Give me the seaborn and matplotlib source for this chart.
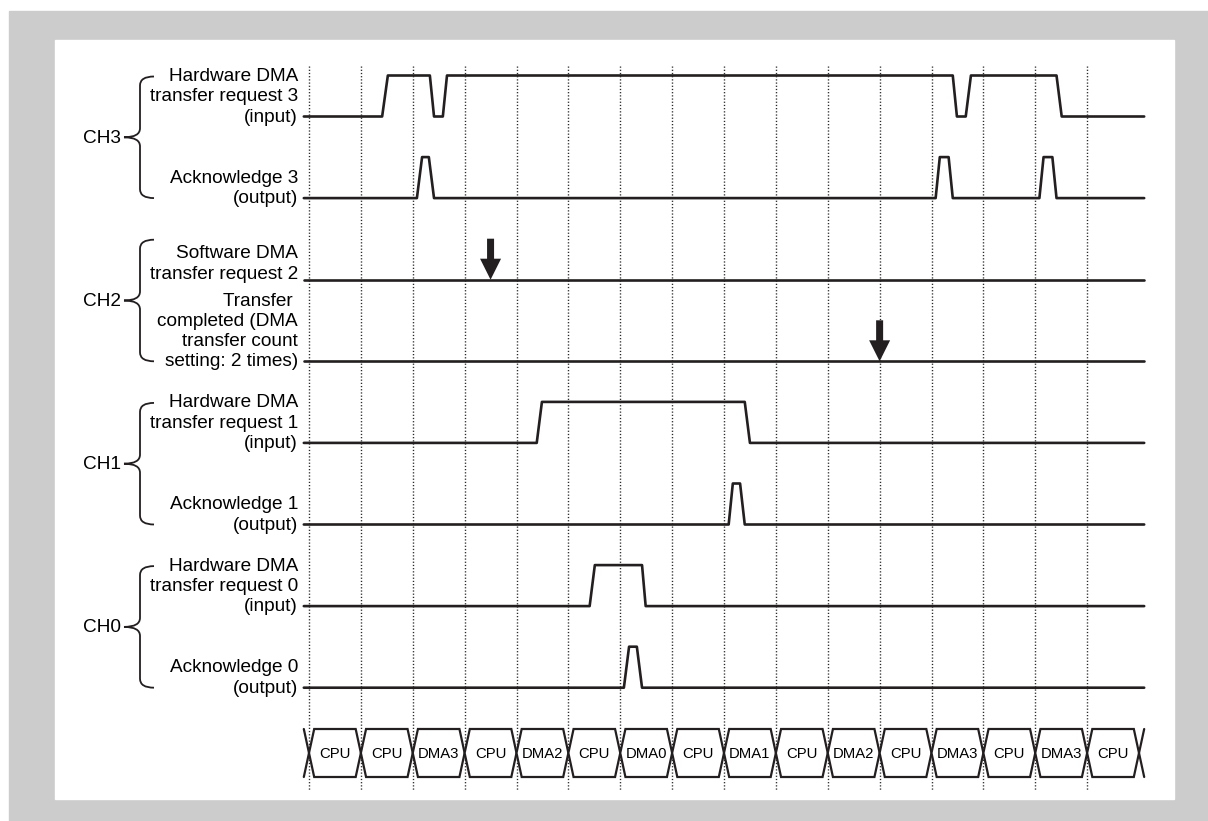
import numpy as np
import pandas as pd
import matplotlib
matplotlib.use("Agg")
import matplotlib.pyplot as plt
import seaborn as sns
from matplotlib.path import Path
from matplotlib.patches import PathPatch, Rectangle, Polygon

# ---------------- data ----------------
bus_cycles = ["CPU", "CPU", "DMA3", "CPU", "DMA2", "CPU", "DMA0", "CPU",
              "DMA1", "CPU", "DMA2", "CPU", "DMA3", "CPU", "DMA3", "CPU"]

# waveform transition times (bus-cycle units) and logic levels
req3_t = [-0.1, 1.41, 1.52, 2.33, 2.41, 2.58, 2.66, 12.41, 12.49, 12.66, 12.76, 14.41, 14.51, 16.1]
req3_v = [0, 0, 1, 1, 0, 0, 1, 1, 0, 0, 1, 1, 0, 0]
ack3_t = [-0.1, 2.08, 2.18, 2.31, 2.41, 12.08, 12.16, 12.33, 12.41, 14.08, 14.16, 14.33, 14.41, 16.1]
ack3_v = [0, 0, 1, 1, 0, 0, 1, 1, 0, 0, 1, 1, 0, 0]
sw2_t = [-0.1, 16.1]
sw2_v = [0, 0]
done2_t = [-0.1, 16.1]
done2_v = [0, 0]
req1_t = [-0.1, 4.39, 4.49, 8.40, 8.50, 16.1]
req1_v = [0, 0, 1, 1, 0, 0]
ack1_t = [-0.1, 8.09, 8.17, 8.31, 8.40, 16.1]
ack1_v = [0, 0, 1, 1, 0, 0]
req0_t = [-0.1, 5.41, 5.51, 6.42, 6.49, 16.1]
req0_v = [0, 0, 1, 1, 0, 0]
ack0_t = [-0.1, 6.07, 6.17, 6.32, 6.42, 16.1]
ack0_v = [0, 0, 1, 1, 0, 0]

sw_request_time = 3.5       # software DMA transfer request 2 (arrow)
transfer_done_time = 11.0   # transfer completed (arrow)

signal_labels = [
    "Hardware DMA\ntransfer request 3\n(input)",
    "Acknowledge 3\n(output)",
    "Software DMA\ntransfer request 2",
    "Transfer \ncompleted (DMA\ntransfer count\nsetting: 2 times)",
    "Hardware DMA\ntransfer request 1\n(input)",
    "Acknowledge 1\n(output)",
    "Hardware DMA\ntransfer request 0\n(input)",
    "Acknowledge 0\n(output)",
]
channel_labels = ["CH3", "CH2", "CH1", "CH0"]

# ---------------- layout (pixels) ----------------
W, H = 1208, 821
X0 = 309.0            # pixel of t = 0
SLOT = 51.875         # pixels per bus cycle
ROW0, ROW_STEP = 116.5, 81.6
HIGH = 41.0
row_y = [ROW0 + i * ROW_STEP for i in range(8)]
label_dy = [5, 5, -1, 5, 5, 5, 5, 5]
INK = "#231f20"

sns.set_theme(style="white")
plt.rcParams["font.family"] = ["Liberation Sans", "DejaVu Sans"]

fig = plt.figure(figsize=(W / 100, H / 100), dpi=100)
bg = fig.add_axes([0, 0, 1, 1])
bg.set_xlim(0, W)
bg.set_ylim(H, 0)
bg.axis("off")
bg.add_patch(Rectangle((9, 11), W - 9, H - 11, color="#cccccc", zorder=0))
bg.add_patch(Rectangle((55, 40), 1174 - 55, 799 - 40, color="white", zorder=1))

ax = fig.add_axes([0, 0, 1, 1])
ax.patch.set_alpha(0)

# dotted cycle boundaries
ax.vlines(np.arange(len(bus_cycles)), 66, 790, colors="#2a2a2a",
          linestyles=(0, (0.9, 1.4)), linewidth=1.0, zorder=2)

# waveforms
waves = [(req3_t, req3_v), (ack3_t, ack3_v), (sw2_t, sw2_v), (done2_t, done2_v),
         (req1_t, req1_v), (ack1_t, ack1_v), (req0_t, req0_v), (ack0_t, ack0_v)]
for (tt, vv), y0 in zip(waves, row_y):
    df = pd.DataFrame({"t": tt, "y": [y0 - HIGH * v for v in vv]})
    sns.lineplot(data=df, x="t", y="y", sort=False, estimator=None, ax=ax,
                 color=INK, linewidth=1.9, legend=False, zorder=3)

# arrows for CH2 events (shaft 7px wide, head 20px wide / 21px long)
hw_shaft = 3.5 / SLOT
hw_head = 10.5 / SLOT
for tx, y0 in [(sw_request_time, row_y[2]), (transfer_done_time, row_y[3])]:
    pts = [(tx - hw_shaft, y0 - 41), (tx + hw_shaft, y0 - 41), (tx + hw_shaft, y0 - 21),
           (tx + hw_head, y0 - 21), (tx, y0), (tx - hw_head, y0 - 21), (tx - hw_shaft, y0 - 21)]
    ax.add_patch(Polygon(pts, closed=True, facecolor=INK, edgecolor="none", zorder=4))

# bus cycle row
BT, BB = 729, 777
BM = (BT + BB) / 2
d = 0.1
for i, name in enumerate(bus_cycles):
    poly = [(i + d, BT), (i + 1 - d, BT), (i + 1, BM), (i + 1 - d, BB), (i + d, BB), (i, BM)]
    ax.add_patch(Polygon(poly, closed=True, facecolor="white", edgecolor=INK,
                         linewidth=1.6, joinstyle="miter", zorder=3))
    ax.text(i + 0.5, BM + 0.5, name, ha="center", va="center", fontsize=10.7,
            color="black", zorder=4)
n = len(bus_cycles)
for xs in [(-d, 0, -d), (n + d, n, n + d)]:
    ax.plot(xs, (BT, BM, BB), color=INK, linewidth=1.6, zorder=3)

ax.set_xlim(-X0 / SLOT, (W - X0) / SLOT)
ax.set_ylim(H, 0)
ax.axis("off")

# signal labels
for lab, y0, dy in zip(signal_labels, row_y, label_dy):
    bg.text(298, y0 + dy, lab, ha="right", va="baseline", fontsize=13.7,
            color="black", linespacing=1.25, zorder=5)

# channel braces
def brace(y_top, y_bot, xv=140, xa=154, xt=124, r=9):
    ym = (y_top + y_bot) / 2
    verts = [(xa, y_top), (xv, y_top), (xv, y_top + r),
             (xv, ym - r), (xv, ym), (xt, ym),
             (xv, ym), (xv, ym + r),
             (xv, y_bot - r), (xv, y_bot), (xa, y_bot)]
    codes = [Path.MOVETO, Path.CURVE3, Path.CURVE3,
             Path.LINETO, Path.CURVE3, Path.CURVE3,
             Path.CURVE3, Path.CURVE3,
             Path.LINETO, Path.CURVE3, Path.CURVE3]
    bg.add_patch(PathPatch(Path(verts, codes), facecolor="none", edgecolor=INK,
                           linewidth=1.3, zorder=5))
    return ym

for k, ch in enumerate(channel_labels):
    top = row_y[2 * k] - 40
    bot = row_y[2 * k + 1]
    ym = brace(top, bot)
    bg.text(121, ym + 1, ch, ha="right", va="center", fontsize=13.7, color="black", zorder=5)

fig.savefig("out.png", dpi=100)
